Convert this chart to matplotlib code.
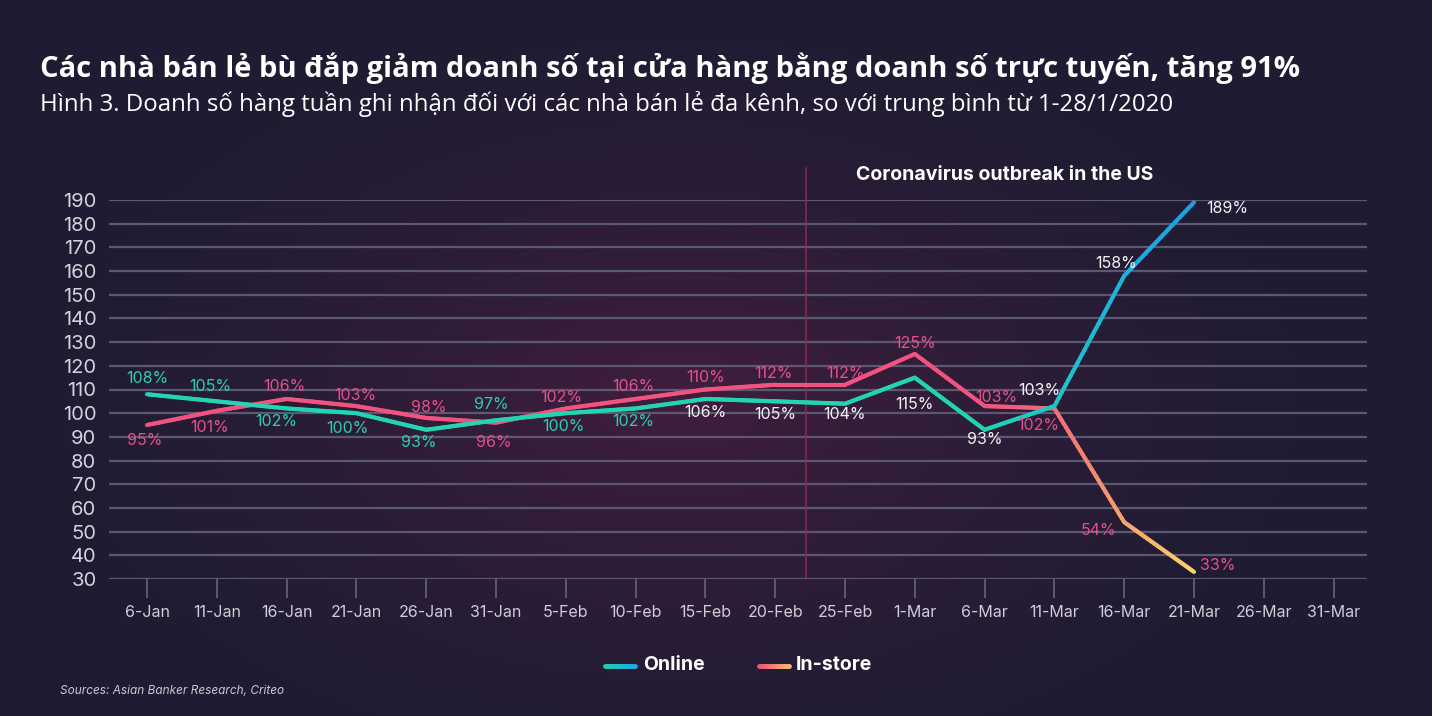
import numpy as np
import matplotlib
matplotlib.use('Agg')
import matplotlib.pyplot as plt
from matplotlib.collections import LineCollection
from matplotlib.colors import to_rgb

# ---------------- data ----------------
dates = ['6-Jan', '11-Jan', '16-Jan', '21-Jan', '26-Jan', '31-Jan', '5-Feb', '10-Feb',
         '15-Feb', '20-Feb', '25-Feb', '1-Mar', '6-Mar', '11-Mar', '16-Mar', '21-Mar',
         '26-Mar', '31-Mar']
online = [108, 105, 102, 100, 93, 97, 100, 102, 106, 105, 104, 115, 93, 103, 158, 189]
instore = [95, 101, 106, 103, 98, 96, 102, 106, 110, 112, 112, 125, 103, 102, 54, 33]
yticks = list(range(30, 200, 10))
outbreak_pos = 9.44

title = "Các nhà bán lẻ bù đắp giảm doanh số tại cửa hàng bằng doanh số trực tuyến, tăng 91%"
subtitle = "Hình 3. Doanh số hàng tuần ghi nhận đối với các nhà bán lẻ đa kênh, so với trung bình từ 1-28/1/2020"

# ---------------- style ----------------
W, H = 1432, 716
FONT = ['Inter', 'DejaVu Sans']
TFONT = ['Open Sans', 'Noto Sans', 'DejaVu Sans']
plt.rcParams['font.family'] = FONT

fig = plt.figure(figsize=(W / 100, H / 100), dpi=100)

# background radial glow
bg = fig.add_axes([0, 0, 1, 1], zorder=-10)
yy, xx = np.mgrid[0:H, 0:W]
d = np.sqrt(((xx - 680) / 720.0) ** 2 + ((yy - 400) / 420.0) ** 2)
t = np.clip(1 - d, 0, 1) ** 1.3
edge = np.array([29, 28, 50]) / 255.0
center = np.array([64, 30, 62]) / 255.0
img = edge[None, None, :] + (center - edge)[None, None, :] * t[:, :, None]
bg.imshow(img, aspect='auto', extent=[0, W, H, 0])
bg.set_axis_off()

# main axes in pixel layout
L, R, T, B = 109, 1367, 200, 579
ax = fig.add_axes([L / W, (H - B) / H, (R - L) / W, (B - T) / H])
ax.set_facecolor('none')
x0px, dx = 147, 69.8
ax.set_xlim((L - x0px) / dx, (R - x0px) / dx)
ax.set_ylim(30, 190)
for s in ax.spines.values():
    s.set_visible(False)

grid_col = '#5b5972'
for v in yticks:
    ax.axhline(v, color=grid_col, lw=1.6, zorder=1)

ax.set_yticks(yticks)
ax.set_yticklabels([str(v) for v in yticks], fontsize=14.5, color='#d4d3dc')
ax.tick_params(axis='y', length=0, pad=9)
ax.set_xticks(range(len(dates)))
ax.set_xticklabels(dates, fontsize=11.5, color='#cfcdd8')
ax.tick_params(axis='x', length=14, width=1.2, color='#66647c', pad=5)

# outbreak marker
ax.plot([outbreak_pos, outbreak_pos], [30, 203.5], color='#8c2a50', lw=1.1,
        clip_on=False, zorder=1)
ax.text(outbreak_pos + 2.85, 200.5, 'Coronavirus outbreak in the US', ha='center',
        va='center', fontsize=14, fontweight='bold', color='white')


def grad_line(ax, xs, ys, vcols, lw, n=30, z=3, **kw):
    segs, cols = [], []
    vcols = [np.array(to_rgb(c)) for c in vcols]
    for i in range(len(xs) - 1):
        for k in range(n):
            a, b = k / n, (k + 1) / n
            p0 = (xs[i] + (xs[i + 1] - xs[i]) * a, ys[i] + (ys[i + 1] - ys[i]) * a)
            p1 = (xs[i] + (xs[i + 1] - xs[i]) * b, ys[i] + (ys[i + 1] - ys[i]) * b)
            segs.append([p0, p1])
            m = (a + b) / 2
            cols.append(vcols[i] * (1 - m) + vcols[i + 1] * m)
    lc = LineCollection(segs, colors=cols, linewidths=lw, capstyle='round',
                        joinstyle='round', zorder=z, **kw)
    ax.add_collection(lc)
    return lc


teal = '#22d4b2'
pink = '#f0537f'
on_cols = [teal] * 13 + ['#20c4c4', '#1fb0dc', '#1e9ee2']
in_cols = [pink] * 13 + ['#f26c78', '#f3a26f', '#f8d46b']
xs_on = list(range(len(online)))
xs_in = list(range(len(instore)))
grad_line(ax, xs_in, instore, in_cols, 3.0, z=3)
grad_line(ax, xs_on, online, on_cols, 3.0, z=4)

# labels
lab_teal = '#2bcfae'
lab_white = '#f2f2f4'
lab_pink = '#e3508a'
on_off = [(0, 16), (-7, 15), (-10, -13), (-9, -15), (-7, -13), (-5, 16), (-2, -13), (-2, -13),
          (0, -14), (0, -13), (0, -11), (0, -27), (0, -10), (-15, 16), (-8, 12), (12, -6)]
on_lc = [lab_teal] * 8 + [lab_white] * 8
in_off = [(-2, -15), (-7, -17), (-2, 12), (-1, 11), (3, 10), (-2, -20), (-5, 11), (-2, 12),
          (0, 12), (-2, 11), (0, 11), (0, 10), (12, 9), (-16, -17), (-8, -8), (6, 6)]
for i, v in enumerate(online):
    ha = 'left' if i == len(online) - 1 else 'center'
    ax.annotate(f'{v}%', (i, v), xytext=on_off[i], textcoords='offset pixels',
                ha=ha, va='center', fontsize=11.5, color=on_lc[i], zorder=6)
for i, v in enumerate(instore):
    ha = 'center'
    if i == len(instore) - 2:
        ha = 'right'
    elif i == len(instore) - 1:
        ha = 'left'
    ax.annotate(f'{v}%', (i, v), xytext=in_off[i], textcoords='offset pixels',
                ha=ha, va='center', fontsize=11.5, color=lab_pink, zorder=6)

# titles
fig.text(40 / W, 1 - 68 / H, title, fontsize=21, fontweight='bold', color='white',
         family=TFONT, va='center', ha='left')
fig.text(40 / W, 1 - 104 / H, subtitle, fontsize=17.3, color='white',
         family=TFONT, va='center', ha='left')

# legend (manual)
lax = fig.add_axes([0, 0, 1, 1], zorder=5)
lax.set_xlim(0, W)
lax.set_ylim(H, 0)
lax.set_axis_off()
lax.patch.set_alpha(0)
grad_line(lax, [605, 635], [666, 666], ['#20d0b0', '#1fa8e0'], 3.5, n=20)
grad_line(lax, [759, 789], [666, 666], ['#f0507f', '#f6b56c'], 3.5, n=20)
lax.text(643, 665, 'Online', fontsize=14, fontweight='bold', color='white', va='center')
lax.text(796, 665, 'In-store', fontsize=14, fontweight='bold', color='white', va='center')
lax.text(60, 691, 'Sources: Asian Banker Research, Criteo', fontsize=8.5, style='italic',
         color='#c9c8d2', va='center')

fig.savefig('out.png', dpi=100)
